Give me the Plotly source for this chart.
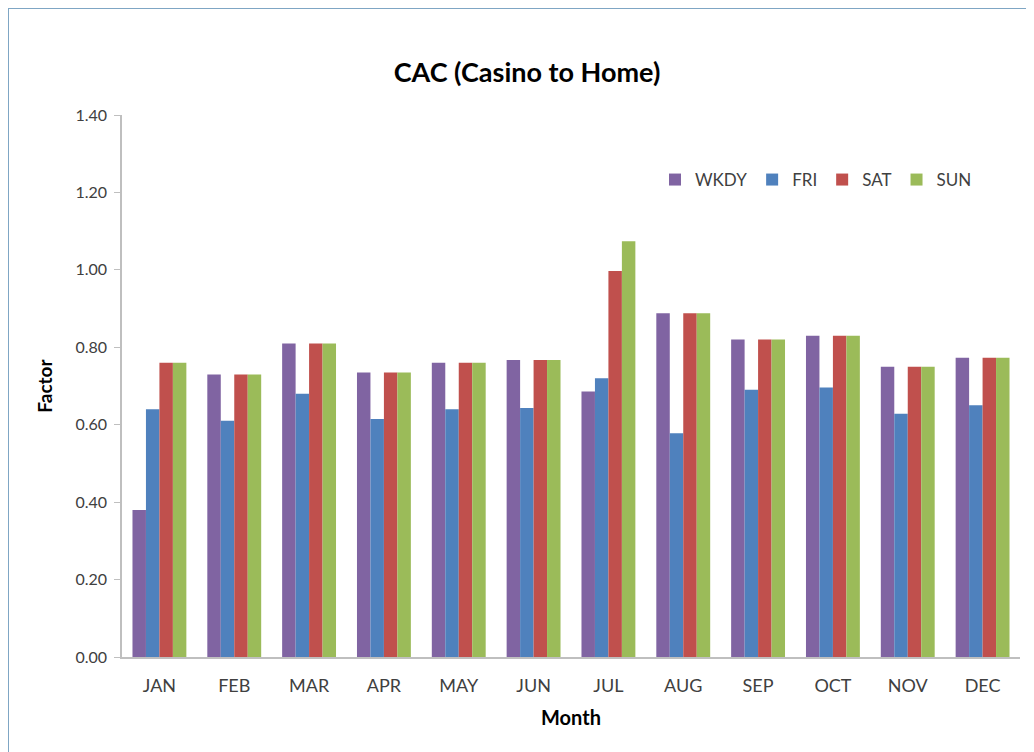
import plotly.graph_objects as go

months = ["JAN", "FEB", "MAR", "APR", "MAY", "JUN", "JUL", "AUG", "SEP", "OCT", "NOV", "DEC"]
wkdy = [0.38, 0.73, 0.81, 0.735, 0.76, 0.767, 0.686, 0.888, 0.82, 0.83, 0.75, 0.773]
fri = [0.64, 0.61, 0.68, 0.615, 0.64, 0.643, 0.72, 0.578, 0.69, 0.696, 0.628, 0.65]
sat = [0.76, 0.73, 0.81, 0.735, 0.76, 0.767, 0.997, 0.888, 0.82, 0.83, 0.75, 0.773]
sun = [0.76, 0.73, 0.81, 0.735, 0.76, 0.767, 1.074, 0.888, 0.82, 0.83, 0.75, 0.773]

series = [
    ("WKDY", wkdy, "#8064A2"),
    ("FRI", fri, "#4F81BD"),
    ("SAT", sat, "#C0504D"),
    ("SUN", sun, "#9BBB59"),
]

# page body has an 8px margin, so figure coords = page coords - 8
OFF = 8
W, H = 1034 - OFF, 752 - OFF
L, R, T, B = 122 - OFF, 1020 - OFF, 115 - OFF, 657 - OFF

fig = go.Figure()
for name, vals, color in series:
    fig.add_trace(go.Bar(x=months, y=vals, name=name, marker=dict(color=color, line=dict(width=0))))

def px(x):
    return (x - OFF - L) / (R - L)

def py(y):
    return (B - (y - OFF)) / (B - T)

font_family = "Lato, 'Open Sans', sans-serif"
txt = "#404040"

fig.update_layout(
    width=W, height=H,
    margin=dict(l=L, r=W - R, t=T, b=H - B, autoexpand=False),
    paper_bgcolor="white", plot_bgcolor="white",
    barmode="group", bargap=0.28, bargroupgap=0,
    font=dict(family=font_family, size=16, color=txt),
    title=dict(text="<b>CAC (Casino to Home)</b>", x=(527 - OFF) / W, xanchor="center",
               y=1 - (73 - OFF) / H, yanchor="middle",
               font=dict(family=font_family, size=27, color="#000000")),
    showlegend=True,
    legend=dict(orientation="h", x=px(655), xanchor="left", y=py(180), yanchor="middle",
                font=dict(size=17, color=txt), bgcolor="rgba(0,0,0,0)",
                itemwidth=30, tracegroupgap=0, traceorder="normal"),
    xaxis=dict(showline=True, linecolor="#BFBFBF", linewidth=1.5, ticks="",
               showgrid=False, tickfont=dict(size=18, color=txt), ticklabelstandoff=12,
               title=dict(text="<b>Month</b>", font=dict(size=20, color="#000000"), standoff=16)),
    yaxis=dict(range=[0, 1.4], dtick=0.2, tickformat=".2f", showline=True,
               linecolor="#BFBFBF", linewidth=1.5, ticks="outside", ticklen=6,
               tickcolor="#BFBFBF", showgrid=False, zeroline=False,
               tickfont=dict(size=16, color=txt), ticklabelstandoff=4,
               title=dict(text="<b>Factor</b>", font=dict(size=19, color="#000000"), standoff=18)),
    shapes=[
        dict(type="line", xref="paper", yref="paper", x0=px(8), x1=px(8), y0=py(7), y1=py(780),
             line=dict(color="#7FA6C4", width=2)),
        dict(type="line", xref="paper", yref="paper", x0=px(8), x1=px(1060), y0=py(8), y1=py(8),
             line=dict(color="#7FA6C4", width=2)),
    ],
)

fig.write_html("out.html")
